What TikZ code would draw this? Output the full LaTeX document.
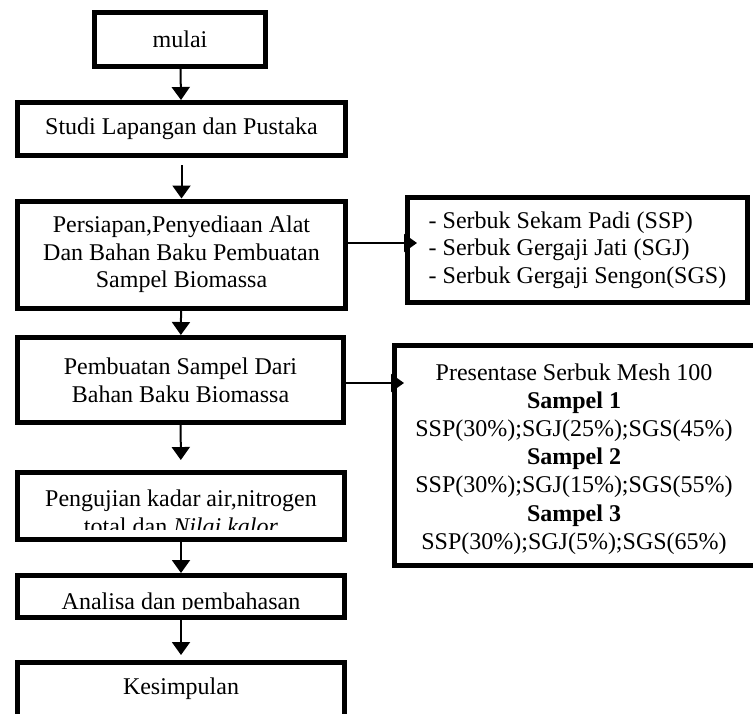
\documentclass[tikz,border=0pt]{standalone}
\usepackage{fontspec}
\setmainfont{Liberation Serif}
\usetikzlibrary{arrows.meta}
\tikzset{
  box/.style={draw, line width=2.5pt, align=center, inner sep=0pt},
  txt/.style={align=center, inner sep=0pt},
  arrow/.style={line width=1pt, -{Triangle[width=9pt,length=6.5pt]}},
}
\begin{document}
\begin{tikzpicture}[x=0.5pt, y=-0.5pt, font=\fontsize{12}{13.8}\selectfont]
\useasboundingbox (0,0) rectangle (753,713);
\node[box, minimum width=85.5pt, minimum height=27pt] (mulai) at (180,39.5){mulai};
\node[box, minimum width=164pt, minimum height=26.5pt] (studi) at (181.5,129){Studi Lapangan dan Pustaka};
\node[box, minimum width=164pt, minimum height=53.5pt] (persiapan) at (181.5,254.5){Persiapan,Penyediaan Alat\\Dan Bahan Baku Pembuatan\\Sampel Biomassa};
\node[box, minimum width=163pt, minimum height=42.5pt] (pembuatan) at (180.5,380){Pembuatan Sampel Dari\\Bahan Baku Biomassa};
\node[box, minimum width=163.5pt, minimum height=33.5pt] (pengujian) at (181,506){};
\begin{scope}
\clip (pengujian.north west) rectangle ([yshift=6.5pt]pengujian.south east);
\node[txt] (pengujiantxt) at (181,512){Pengujian kadar air,nitrogen\\total dan \textit{Nilai kalor}};
\end{scope}
\node[box, minimum width=163.5pt, minimum height=21pt] (analisa) at (181,596.5){};
\begin{scope}
\clip (analisa.north west) rectangle ([yshift=5.5pt]analisa.south east);
\node[txt, anchor=base] (analisatxt) at ([yshift=-6.25pt]analisa.center){Analisa dan pembahasan};
\end{scope}
\node[box, minimum width=163.5pt, minimum height=32.5pt] (kesimpulan) at (181,695){};
\node[txt] (kesimpulantxt) at (181,689){Kesimpulan};
\node[box, align=left, minimum width=170pt, minimum height=52.5pt] (serbuk) at (577.5,250){- Serbuk Sekam Padi (SSP)\\- Serbuk Gergaji Jati (SGJ)\\- Serbuk Gergaji Sengon(SGS)};
\node[box, minimum width=186.5pt, minimum height=110pt] (presentase) at (581,455.5){};
\node[txt, font=\fontsize{12}{14.1}\selectfont] (presentasetxt) at (574,459){Presentase Serbuk Mesh 100\\\textbf{Sampel 1}\\SSP(30\%);SGJ(25\%);SGS(45\%)\\\textbf{Sampel 2}\\SSP(30\%);SGJ(15\%);SGS(55\%)\\\textbf{Sampel 3}\\SSP(30\%);SGJ(5\%);SGS(65\%)};
% alur utama
\draw[arrow] (mulai) -- (studi);
\draw[arrow, shorten <=3.5pt] (studi) -- (persiapan);
\draw[arrow] (persiapan) -- (pembuatan);
\draw[arrow, shorten >=5pt] (pembuatan) -- (pengujian);
\draw[arrow] (pengujian) -- (analisa);
\draw[arrow, shorten >=2.5pt] (analisa) -- (kesimpulan);
% ke kotak samping
\draw[arrow, shorten >=-6pt] ([yshift=5.75pt]persiapan.east) -- ([yshift=5.75pt]persiapan.east -| serbuk.west);
\draw[arrow, shorten >=-6pt] ([yshift=-1.5pt]pembuatan.east) -- ([yshift=-1.5pt]pembuatan.east -| presentase.west);
\end{tikzpicture}
\end{document}
